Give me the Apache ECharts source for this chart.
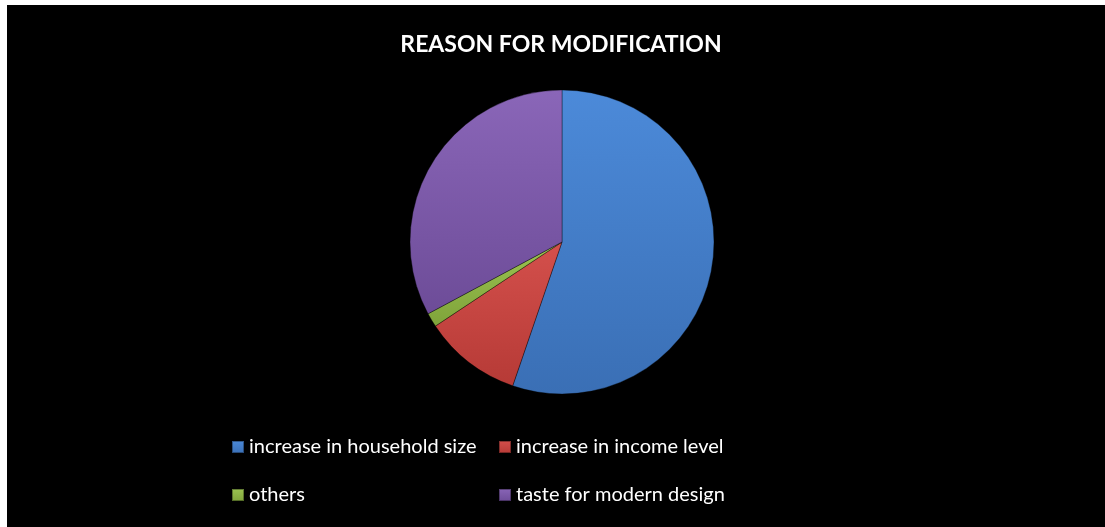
<!DOCTYPE html>
<html>
<head>
<meta charset="utf-8">
<script src="https://cdn.jsdelivr.net/npm/echarts@6/dist/echarts.min.js"></script>
<style>
  html, body { margin: 0; padding: 0; background: #fff; }
  #chart { position: absolute; left: 7px; top: 5px; width: 1098px; height: 522px; background: #000; }
</style>
</head>
<body>
<div id="chart"></div>
<script>
const reasons = [
  "increase in household size",
  "increase in income level",
  "others",
  "taste for modern design"
];
const shares = [55.2, 10.4, 1.5, 32.8];
const sliceColors = [
  ["#4c8ad9", "#3a6fb5"],
  ["#d4504c", "#b63a36"],
  ["#9cc452", "#7fa33a"],
  ["#8a66b8", "#6d4c98"]
];

const chart = echarts.init(document.getElementById("chart"), null, { renderer: "canvas" });

const grad = (c) => new echarts.graphic.LinearGradient(0, 0, 0, 1, [
  { offset: 0, color: c[0] },
  { offset: 1, color: c[1] }
]);

const legendText = { color: "#ffffff", fontSize: 20, fontFamily: "Lato" };

const option = {
  backgroundColor: "#000",
  animation: false,
  title: {
    text: "REASON FOR MODIFICATION",
    left: 554,
    textAlign: "center",
    top: 28,
    padding: 0,
    textStyle: { color: "#ffffff", fontSize: 23, fontWeight: "bold", fontFamily: "Lato" }
  },
  legend: [
    {
      data: [reasons[0], reasons[2]],
      orient: "vertical",
      left: 224,
      top: 432,
      padding: 0,
      itemWidth: 12,
      itemHeight: 12,
      itemGap: 28,
      icon: "rect",
      textStyle: legendText
    },
    {
      data: [reasons[1], reasons[3]],
      orient: "vertical",
      left: 491,
      top: 432,
      padding: 0,
      itemWidth: 12,
      itemHeight: 12,
      itemGap: 28,
      icon: "rect",
      textStyle: legendText
    }
  ],
  series: [
    {
      type: "pie",
      center: [555, 237],
      radius: 152,
      startAngle: 90,
      clockwise: true,
      label: { show: false },
      labelLine: { show: false },
      itemStyle: { borderColor: "rgba(0,0,0,0.35)", borderWidth: 1 },
      data: reasons.map((name, i) => ({
        name,
        value: shares[i],
        itemStyle: { color: grad(sliceColors[i]) }
      }))
    }
  ]
};

chart.setOption(option);
</script>
</body>
</html>
